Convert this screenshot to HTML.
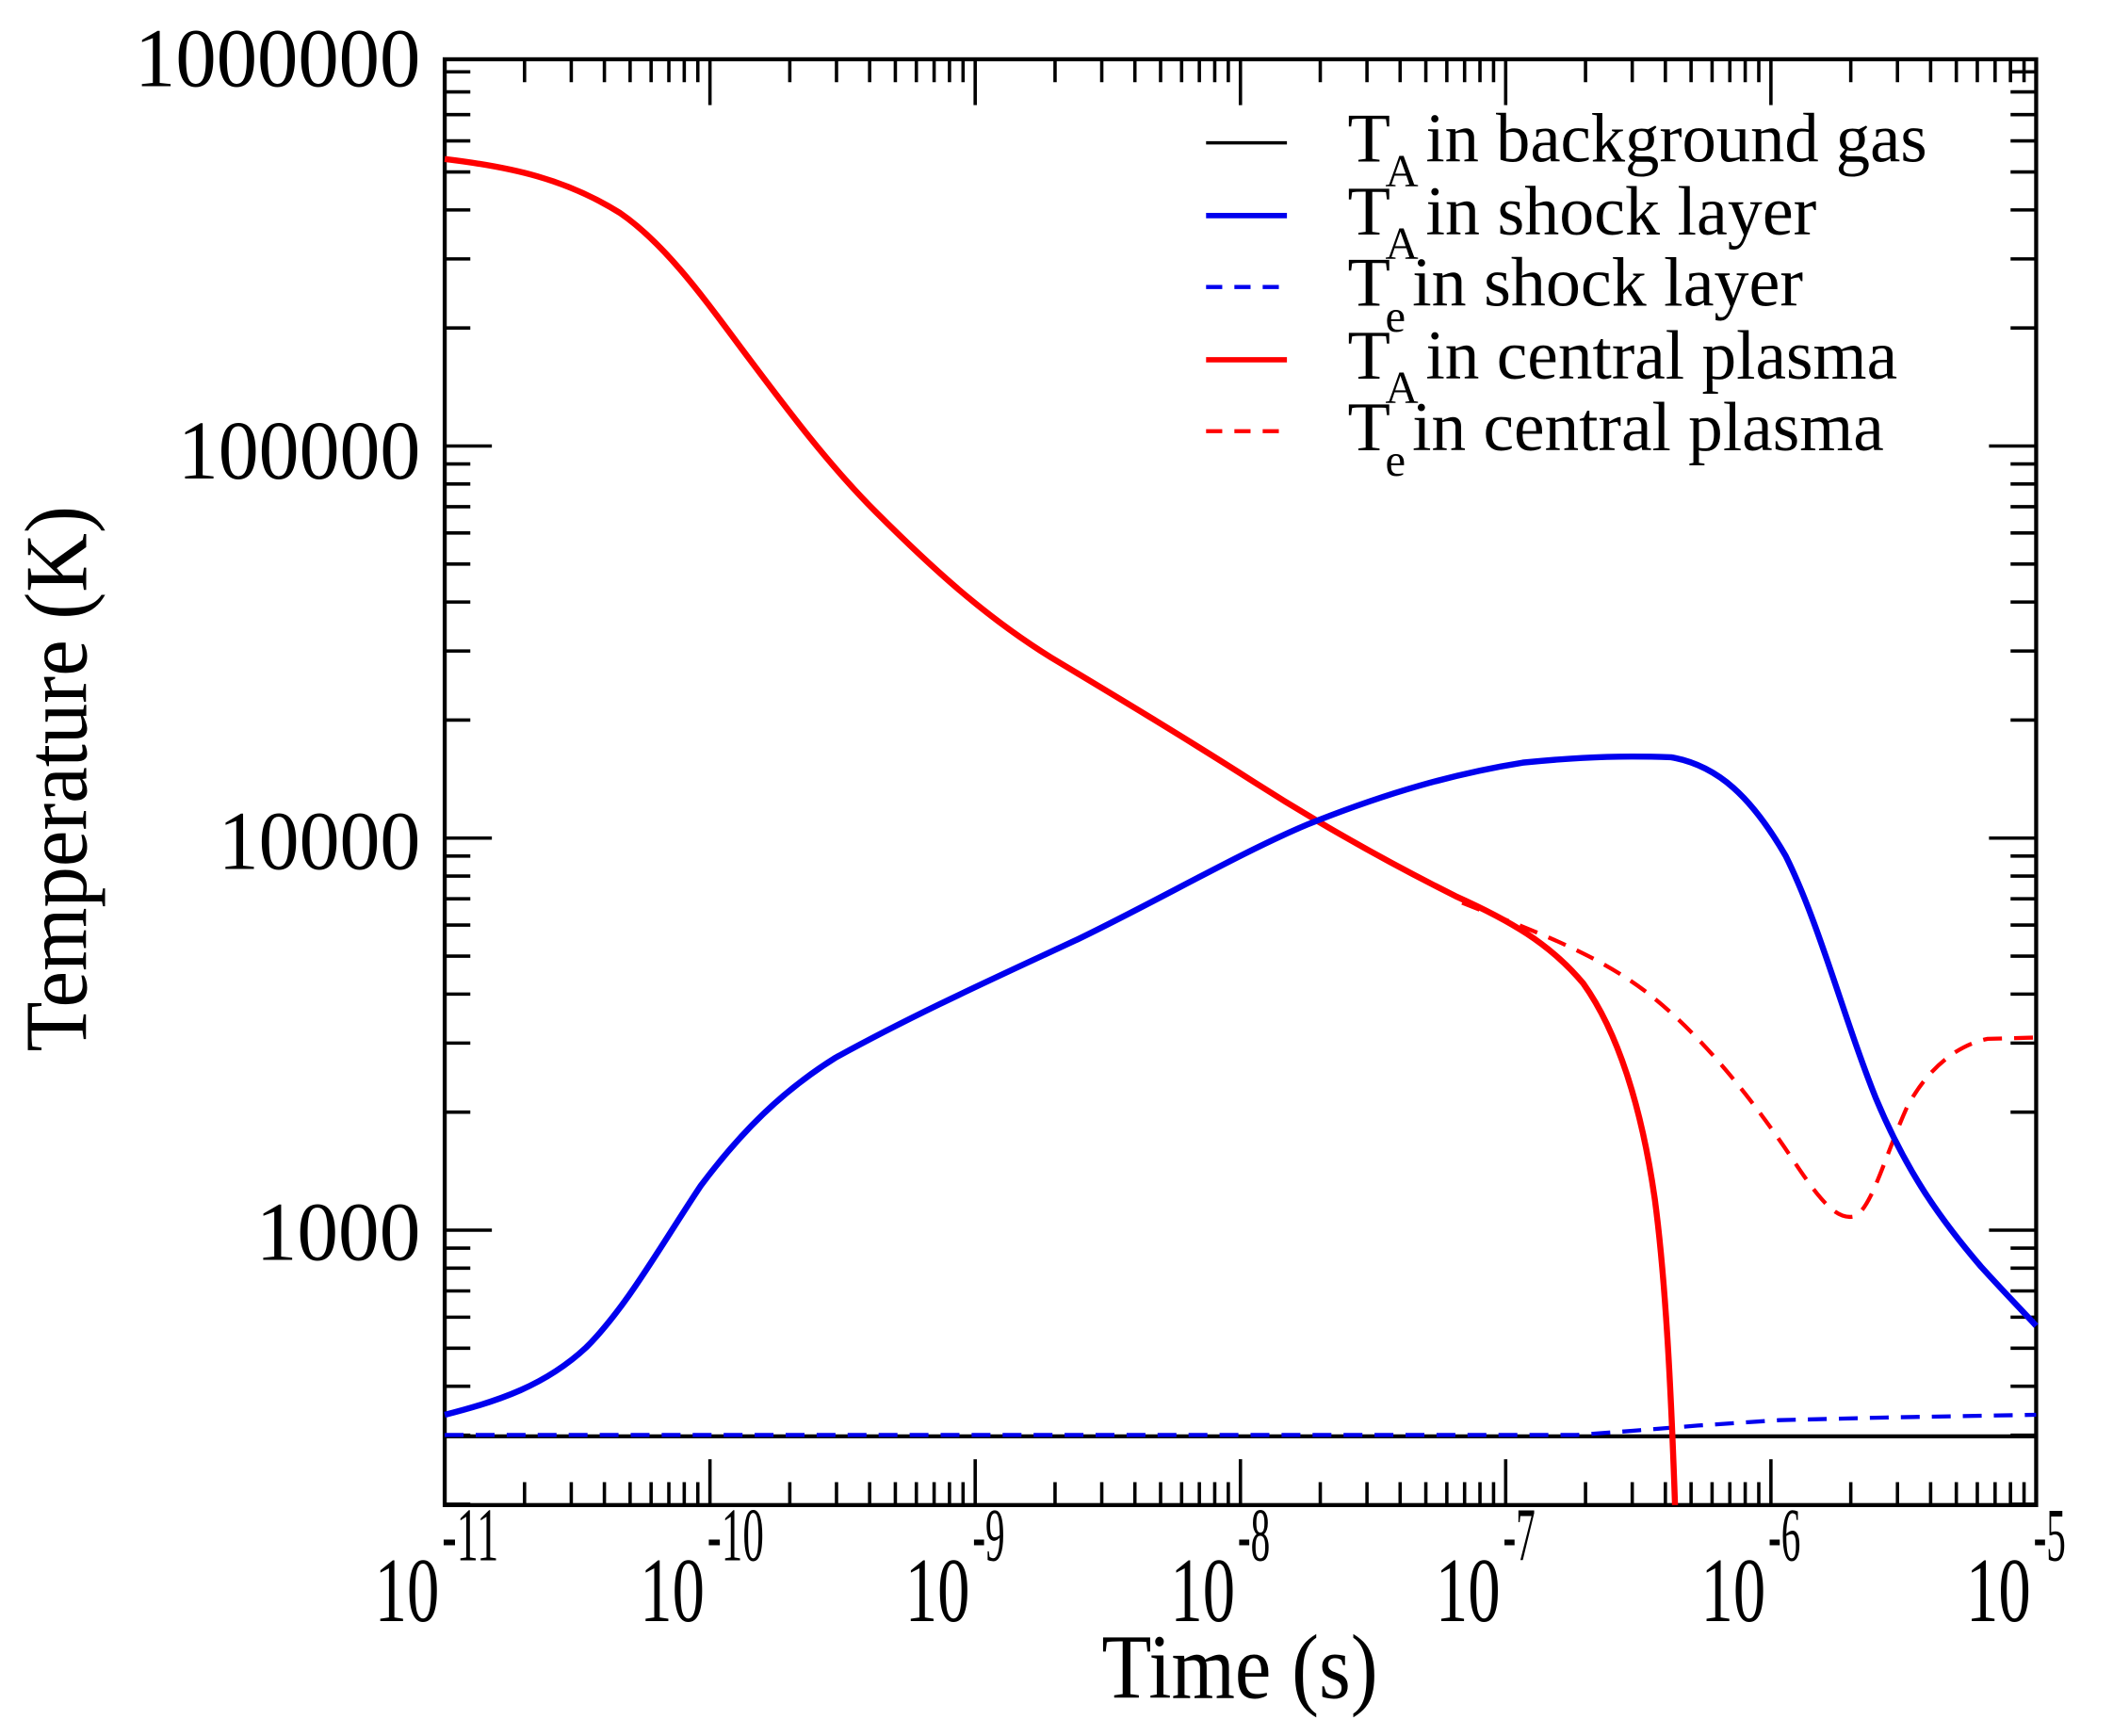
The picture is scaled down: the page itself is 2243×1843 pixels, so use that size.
<!DOCTYPE html>
<html><head><meta charset="utf-8"><style>html,body{margin:0;padding:0;background:#fff}svg{display:block}</style></head>
<body>
<svg width="2243" height="1843" viewBox="0 0 1568 1288.4" xmlns="http://www.w3.org/2000/svg" font-family="'Liberation Serif', serif">
<rect width="1568" height="1289" fill="#fff"/>
<g id="ticks" stroke="#000" stroke-width="2.5"></g>
<rect x="330" y="44" width="1181" height="1073" fill="none" stroke="#000" stroke-width="3"/>
<line x1="330" y1="1066" x2="1511" y2="1066" stroke="#000" stroke-width="3"/>
<polyline fill="none" stroke="#0000ee" stroke-width="3" stroke-dasharray="14,9" points="330,1065 1170,1065 1210,1062 1260,1058 1320,1054 1400,1052 1511,1050"/>
<path fill="none" stroke="#ff0000" stroke-width="3" stroke-dasharray="14,9" d="M1085,670 C1130,688 1180,705 1220,735 C1260,765 1300,815 1330,860 C1350,890 1362,905 1375,903 C1388,900 1398,860 1415,822 C1432,790 1455,775 1475,771 L1511,770"/>
<path fill="none" stroke="#ff0000" stroke-width="4.5" d="M330,118 C380,124 420,133 460,158 C495,182 525,225 555,265 C585,305 615,345 650,380 C690,420 730,457 780,488 C830,518 880,548 930,580 C980,612 1030,640 1080,665 C1120,683 1150,700 1175,730 C1200,765 1218,820 1228,890 C1236,950 1240,1030 1243,1117"/>
<path fill="none" stroke="#0000ee" stroke-width="4.5" d="M330,1050 C370,1040 405,1028 435,1000 C465,970 490,925 520,880 C550,840 580,810 620,785 C680,752 740,725 800,697 C860,668 920,633 970,612 C1030,588 1080,574 1130,566 C1180,561 1210,561 1240,562 C1275,568 1300,592 1325,635 C1350,685 1368,755 1392,815 C1415,870 1440,905 1470,940 C1490,962 1500,972 1511,984"/>
<g font-size="62" text-anchor="end" fill="#000">
<text x="312" y="64" textLength="212" lengthAdjust="spacingAndGlyphs">1000000</text>
<text x="312" y="355" textLength="180" lengthAdjust="spacingAndGlyphs">100000</text>
<text x="312" y="645" textLength="150" lengthAdjust="spacingAndGlyphs">10000</text>
<text x="312" y="935" textLength="122" lengthAdjust="spacingAndGlyphs">1000</text>
</g>
<text transform="translate(64,578) rotate(-90)" font-size="66" text-anchor="middle" textLength="405" lengthAdjust="spacingAndGlyphs">Temperature (K)</text>
<text x="920" y="1260" font-size="68" text-anchor="middle" textLength="205" lengthAdjust="spacingAndGlyphs">Time (s)</text>
<g id="xl" font-size="68" fill="#000"></g>
<g font-size="52" fill="#000">
<line x1="895" y1="106" x2="955" y2="106" stroke="#000" stroke-width="2.5"/>
<line x1="895" y1="160" x2="955" y2="160" stroke="#0000ee" stroke-width="4"/>
<line x1="895" y1="213" x2="955" y2="213" stroke="#0000ee" stroke-width="3" stroke-dasharray="12,9"/>
<line x1="895" y1="267" x2="955" y2="267" stroke="#ff0000" stroke-width="4"/>
<line x1="895" y1="320" x2="955" y2="320" stroke="#ff0000" stroke-width="3" stroke-dasharray="12,9"/>
<text x="1000" y="120">T</text><text x="1028" y="138" font-size="34">A</text><text x="1058" y="120" textLength="372" lengthAdjust="spacingAndGlyphs">in background gas</text>
<text x="1000" y="174">T</text><text x="1028" y="192" font-size="34">A</text><text x="1058" y="174" textLength="290" lengthAdjust="spacingAndGlyphs">in shock layer</text>
<text x="1000" y="227">T</text><text x="1028" y="246" font-size="34">e</text><text x="1048" y="227" textLength="290" lengthAdjust="spacingAndGlyphs">in shock layer</text>
<text x="1000" y="281">T</text><text x="1028" y="299" font-size="34">A</text><text x="1058" y="281" textLength="350" lengthAdjust="spacingAndGlyphs">in central plasma</text>
<text x="1000" y="334">T</text><text x="1028" y="353" font-size="34">e</text><text x="1048" y="334" textLength="350" lengthAdjust="spacingAndGlyphs">in central plasma</text>
</g>
<script>
(function(){
var ns="http://www.w3.org/2000/svg",g=document.getElementById('ticks'),xl=document.getElementById('xl');
function L(a,b,c,d){var l=document.createElementNS(ns,'line');l.setAttribute('x1',a);l.setAttribute('y1',b);l.setAttribute('x2',c);l.setAttribute('y2',d);g.appendChild(l);}
var x0=330,dx=(1511-330)/6;
for(var k=0;k<6;k++){for(var m=1;m<=10;m++){var x=x0+(k+Math.log10(m))*dx;if(m==1&&k>0)continue;var len=(m==1||m==10)?34:17;L(x,1117,x,1117-len);L(x,44,x,44+len);}}
var y3=913,dy=291;
for(var e=2;e<6;e++){for(var m=1;m<10;m++){var y=y3-(e-3+Math.log10(m))*dy;if(y>1117||y<44)continue;var len=(m==1)?35:19;L(330,y,330+len,y);L(1511,y,1511-len,y);}}
var ex=[-11,-10,-9,-8,-7,-6,-5];
for(var i=0;i<7;i++){var x=x0+i*dx;var t=document.createElementNS(ns,'text');t.setAttribute('x',x-52);t.setAttribute('y',1203);t.textContent='10';t.setAttribute('textLength','48');t.setAttribute('lengthAdjust','spacingAndGlyphs');xl.appendChild(t);
var s=document.createElementNS(ns,'text');s.setAttribute('x',x-2);s.setAttribute('y',1158);s.setAttribute('font-size','56');s.textContent='-'+(-ex[i]);var w=(-ex[i])>=10?42:24;s.setAttribute('textLength',w);s.setAttribute('lengthAdjust','spacingAndGlyphs');xl.appendChild(s);}
})();
</script>
</svg>
</body></html>
